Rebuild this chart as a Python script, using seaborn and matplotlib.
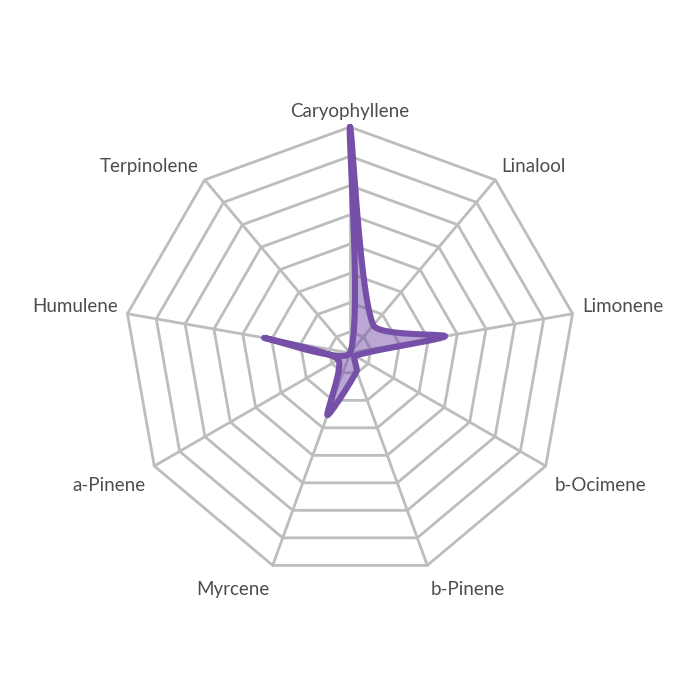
import numpy as np
import matplotlib
matplotlib.use("Agg")
import matplotlib.pyplot as plt
import matplotlib.transforms as mtransforms
import seaborn as sns

# terpene profile, clockwise from the top
terpenes = ["Caryophyllene", "Linalool", "Limonene", "b-Ocimene", "b-Pinene",
            "Myrcene", "a-Pinene", "Humulene", "Terpinolene"]
levels = [0.400, 0.076, 0.179, 0.024, 0.047, 0.127, 0.037, 0.163, 0.014]
ring_ticks = [0.05, 0.10, 0.15, 0.20, 0.25, 0.30, 0.35, 0.40]
scale_min = 0.014
scale_max = 0.40

line_color = "#7650a8"
grid_color = "#bdbdbd"
text_color = "#4d4d4d"


def spline_closed(pts, tension=0.2, steps=80):
    # chart.js style spline through the points
    n = len(pts)
    cps = []
    for i in range(n):
        p0, p1, p2 = pts[i - 1], pts[i], pts[(i + 1) % n]
        d01 = np.hypot(*(p1 - p0))
        d12 = np.hypot(*(p2 - p1))
        s01 = d01 / (d01 + d12)
        s12 = d12 / (d01 + d12)
        cps.append((p1 - tension * s01 * (p2 - p0), p1 + tension * s12 * (p2 - p0)))
    u = np.linspace(0, 1, steps)[:, None]
    out = []
    for i in range(n):
        a, b = pts[i], cps[i][1]
        c, d = cps[(i + 1) % n][0], pts[(i + 1) % n]
        out.append((1 - u) ** 3 * a + 3 * (1 - u) ** 2 * u * b + 3 * (1 - u) * u ** 2 * c + u ** 3 * d)
    return np.vstack(out)


sns.set_theme(style="white")
plt.rcParams["font.family"] = ["Lato", "DejaVu Sans"]

fig = plt.figure(figsize=(7, 7), dpi=100)
R_px = 226
ax = fig.add_axes([124 / 700, 121 / 700, 2 * R_px / 700, 2 * R_px / 700], projection="polar")
ax.set_theta_offset(np.pi / 2)
ax.set_theta_direction(-1)
ax.set_ylim(scale_min, scale_max)
ax.axis("off")

n = len(terpenes)
angles = np.arange(n) * 2 * np.pi / n
closed = np.append(angles, angles[0])

# polygon grid + spokes
for t in ring_ticks:
    ax.plot(closed, [t] * (n + 1), color=grid_color, lw=2.0, zorder=1, clip_on=False)
for a in angles:
    ax.plot([a, a], [scale_min, scale_max], color=grid_color, lw=2.0, zorder=1, clip_on=False)

# smoothed data outline (computed in cartesian, back to polar)
frac = (np.array(levels) - scale_min) / (scale_max - scale_min)
phi = np.pi / 2 - angles
pts = np.column_stack([frac * np.cos(phi), frac * np.sin(phi)])
curve = spline_closed(pts, tension=0.2)
c_theta = np.pi / 2 - np.arctan2(curve[:, 1], curve[:, 0])
c_r = scale_min + np.hypot(curve[:, 0], curve[:, 1]) * (scale_max - scale_min)

ax.fill(c_theta, c_r, color=line_color, alpha=0.5, lw=0, zorder=2, clip_on=False)
ax.plot(c_theta, c_r, color=line_color, lw=4.4, zorder=3, clip_on=False,
        solid_joinstyle="round")

# point labels
r_lab = scale_min + (R_px + 10) / R_px * (scale_max - scale_min)
for a, name in zip(angles, terpenes):
    s, c = np.sin(a), np.cos(a)
    if abs(s) < 1e-6:
        ha = "center"
    elif s > 0:
        ha = "left"
    else:
        ha = "right"
    if c > 0:
        va, dy = "bottom", -3 / 100
    else:
        va, dy = "top", -6 / 100
    tr = ax.transData + mtransforms.ScaledTranslation(0, dy, fig.dpi_scale_trans)
    ax.text(a, r_lab, name, ha=ha, va=va, fontsize=13.5, fontweight="normal",
            color=text_color, clip_on=False, transform=tr)

fig.savefig("out.png", dpi=100)
